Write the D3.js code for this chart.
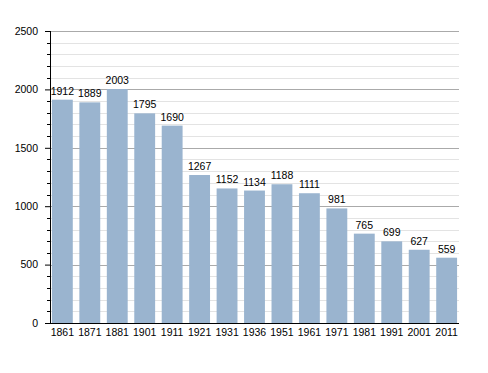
<!DOCTYPE html>
<html>
<head>
<meta charset="utf-8">
<script src="https://cdn.jsdelivr.net/npm/d3@7"></script>
<style>
  body { margin: 0; background: #fff; }
  text { font-family: "Liberation Sans", Arial, sans-serif; }
</style>
</head>
<body>
<div id="chart"></div>
<script>
// Population by census year
const years = ['1861', '1871', '1881', '1901', '1911', '1921', '1931', '1936', '1951', '1961', '1971', '1981', '1991', '2001', '2011'];
const population = [1912, 1889, 2003, 1795, 1690, 1267, 1152, 1134, 1188, 1111, 981, 765, 699, 627, 559];
const majorTicks = [0, 500, 1000, 1500, 2000, 2500];

const width = 488;
const height = 373;
const margin = {top: 31, right: 29, bottom: 50, left: 50};
const fontSize = '10.5px';

const svg = d3.select('#chart')
  .append('svg')
  .attr('width', width)
  .attr('height', height);

const x = d3.scaleBand()
  .domain(years)
  .range([margin.left, width - margin.right])
  .paddingInner(0.24)
  .paddingOuter(0.07);

const y = d3.scaleLinear()
  .domain([0, 2500])
  .range([height - margin.bottom, margin.top]);

// minor grid lines every 100
const minorTicks = d3.range(100, 2500, 100).filter(v => v % 500 !== 0);

svg.append('g')
  .selectAll('line')
  .data(minorTicks)
  .join('line')
  .attr('x1', margin.left)
  .attr('x2', width - margin.right)
  .attr('y1', d => Math.round(y(d)) + 0.5)
  .attr('y2', d => Math.round(y(d)) + 0.5)
  .style('stroke', '#e3e3e3');

svg.append('g')
  .selectAll('line')
  .data(majorTicks.slice(1))
  .join('line')
  .attr('x1', margin.left)
  .attr('x2', width - margin.right)
  .attr('y1', d => Math.round(y(d)) + 0.5)
  .attr('y2', d => Math.round(y(d)) + 0.5)
  .style('stroke', '#aaaaaa');

// bars
svg.append('g')
  .selectAll('rect')
  .data(population)
  .join('rect')
  .attr('x', (d, i) => x(years[i]))
  .attr('y', d => y(d))
  .attr('width', x.bandwidth())
  .attr('height', d => y(0) - y(d))
  .style('fill', '#9ab4cf');

// value labels
svg.append('g')
  .selectAll('text')
  .data(population)
  .join('text')
  .attr('x', (d, i) => x(years[i]) + x.bandwidth() / 2)
  .attr('y', d => y(d) - 5)
  .attr('text-anchor', 'middle')
  .style('font-size', fontSize)
  .text(d => d);

// y axis with minor ticks
const yAxis = svg.append('g')
  .attr('transform', `translate(${margin.left},0)`);

yAxis.call(d3.axisLeft(y).tickValues(majorTicks).tickSize(5).tickPadding(7).tickFormat(d3.format('d')))
  .call(g => g.select('.domain').attr('d', `M0.5,${y(2500)}V${y(0)}`))
  .selectAll('text')
  .style('font-size', fontSize)
  .style('font-family', '"Liberation Sans", Arial, sans-serif');

yAxis.append('g')
  .selectAll('line')
  .data(minorTicks)
  .join('line')
  .attr('x1', -3)
  .attr('x2', 0)
  .attr('y1', d => Math.round(y(d)) + 0.5)
  .attr('y2', d => Math.round(y(d)) + 0.5)
  .style('stroke', '#000');

// x axis
svg.append('g')
  .attr('transform', `translate(0,${y(0)})`)
  .call(d3.axisBottom(x).tickSize(0).tickPadding(6))
  .call(g => g.select('.domain').attr('d', `M${margin.left},0.5H${width - margin.right}`))
  .selectAll('text')
  .style('font-size', fontSize)
  .style('font-family', '"Liberation Sans", Arial, sans-serif');
</script>
</body>
</html>
